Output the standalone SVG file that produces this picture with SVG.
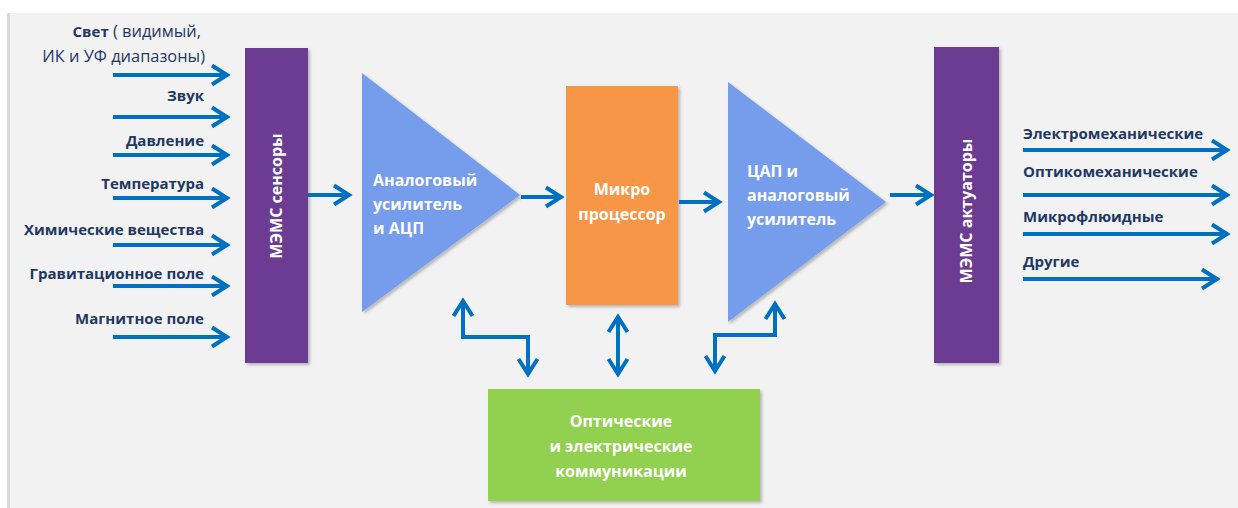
<svg xmlns="http://www.w3.org/2000/svg" width="1238" height="508" viewBox="0 0 1238 508">
<defs>
<style>
.lbl{font-family:"Open Sans","Liberation Sans",sans-serif;font-size:15px;font-weight:bold;fill:#1f3864}
.reg{font-weight:normal;font-size:16.4px}
.wt{font-family:"Open Sans","Liberation Sans",sans-serif;font-size:16px;font-weight:bold;fill:#ffffff}
.arr{fill:none;stroke:#0070c0;stroke-width:4}
</style>
<marker id="ah" viewBox="-20 -12 24 24" refX="0" refY="0" markerWidth="24" markerHeight="24" markerUnits="userSpaceOnUse" orient="auto-start-reverse">
<path d="M-16,-9.5 L-1,0 L-16,9.5" fill="none" stroke="#0070c0" stroke-width="4"/>
</marker>
<filter id="sh" x="-10%" y="-10%" width="130%" height="130%">
<feDropShadow dx="2" dy="2" stdDeviation="1.5" flood-color="#000" flood-opacity="0.25"/>
</filter>
</defs>
<rect x="0" y="0" width="1238" height="508" fill="#ffffff"/>
<rect x="7" y="13" width="1231" height="495" fill="#f2f2f2"/>
<rect x="7" y="13" width="3" height="495" fill="#d9d9d9"/>

<g id="sensors">
<rect x="245" y="48" width="63" height="315" fill="#6c3a92" filter="url(#sh)"/>
<text class="wt" transform="translate(282,196) rotate(-90)" text-anchor="middle">МЭМС сенсоры</text>
</g>
<g id="adc">
<polygon points="362,73 520,195 362,312" fill="#749deb" filter="url(#sh)"/>
<text class="wt" x="373" y="186">Аналоговый</text>
<text class="wt" x="373" y="210">усилитель</text>
<text class="wt" x="373" y="234">и АЦП</text>
</g>
<g id="cpu">
<rect x="566" y="86" width="112" height="219" fill="#f79646" filter="url(#sh)"/>
<text class="wt" x="622" y="195" text-anchor="middle">Микро</text>
<text class="wt" x="622" y="220" text-anchor="middle">процессор</text>
</g>
<g id="dac">
<polygon points="728,82 886,202 728,322" fill="#749deb" filter="url(#sh)"/>
<text class="wt" x="747" y="177">ЦАП и</text>
<text class="wt" x="747" y="201">аналоговый</text>
<text class="wt" x="747" y="225">усилитель</text>
</g>
<g id="actuators">
<rect x="934" y="47" width="65" height="316" fill="#6c3a92" filter="url(#sh)"/>
<text class="wt" transform="translate(972,211) rotate(-90)" text-anchor="middle">МЭМС актуаторы</text>
</g>
<g id="comm">
<rect x="488" y="389" width="272" height="112" fill="#92d050" filter="url(#sh)"/>
<text class="wt" x="621" y="427" text-anchor="middle">Оптические</text>
<text class="wt" x="621" y="452" text-anchor="middle">и электрические</text>
<text class="wt" x="621" y="477" text-anchor="middle">коммуникации</text>
</g>

<g id="input-labels">
<text class="lbl" x="201" y="37" text-anchor="end">Свет<tspan class="reg"> ( видимый,</tspan></text>
<text class="lbl reg" x="205" y="62" text-anchor="end">ИК и УФ диапазоны)</text>
<text class="lbl" x="204" y="101" text-anchor="end">Звук</text>
<text class="lbl" x="204" y="146" text-anchor="end">Давление</text>
<text class="lbl" x="204" y="189" text-anchor="end">Температура</text>
<text class="lbl" x="204" y="235" text-anchor="end">Химические вещества</text>
<text class="lbl" x="204" y="279" text-anchor="end">Гравитационное поле</text>
<text class="lbl" x="204" y="324" text-anchor="end">Магнитное поле</text>
</g>
<g id="output-labels">
<text class="lbl" x="1023" y="139">Электромеханические</text>
<text class="lbl" x="1023" y="177">Оптикомеханические</text>
<text class="lbl" x="1023" y="222">Микрофлюидные</text>
<text class="lbl" x="1023" y="267">Другие</text>
</g>

<g id="connectors">
<line class="arr" x1="113" y1="75" x2="228" y2="75" marker-end="url(#ah)"/>
<line class="arr" x1="113" y1="117" x2="228" y2="117" marker-end="url(#ah)"/>
<line class="arr" x1="113" y1="155" x2="228" y2="155" marker-end="url(#ah)"/>
<line class="arr" x1="113" y1="198" x2="228" y2="198" marker-end="url(#ah)"/>
<line class="arr" x1="113" y1="245" x2="228" y2="245" marker-end="url(#ah)"/>
<line class="arr" x1="113" y1="286" x2="228" y2="286" marker-end="url(#ah)"/>
<line class="arr" x1="113" y1="337" x2="228" y2="337" marker-end="url(#ah)"/>

<line class="arr" x1="308" y1="195" x2="350" y2="195" marker-end="url(#ah)"/>
<line class="arr" x1="521" y1="197" x2="562" y2="197" marker-end="url(#ah)"/>
<line class="arr" x1="679" y1="202" x2="720" y2="202" marker-end="url(#ah)"/>
<line class="arr" x1="890" y1="195" x2="932" y2="195" marker-end="url(#ah)"/>

<line class="arr" x1="1023" y1="150" x2="1228" y2="150" marker-end="url(#ah)"/>
<line class="arr" x1="1023" y1="195" x2="1228" y2="195" marker-end="url(#ah)"/>
<line class="arr" x1="1023" y1="234" x2="1228" y2="234" marker-end="url(#ah)"/>
<line class="arr" x1="1023" y1="279" x2="1218" y2="279" marker-end="url(#ah)"/>

<polyline class="arr" points="463,300 463,337 528,337 528,375" marker-start="url(#ah)" marker-end="url(#ah)"/>
<line class="arr" x1="618" y1="316" x2="618" y2="375" marker-start="url(#ah)" marker-end="url(#ah)"/>
<polyline class="arr" points="775,303 775,335 715,335 715,372" marker-start="url(#ah)" marker-end="url(#ah)"/>
</g>
</svg>
